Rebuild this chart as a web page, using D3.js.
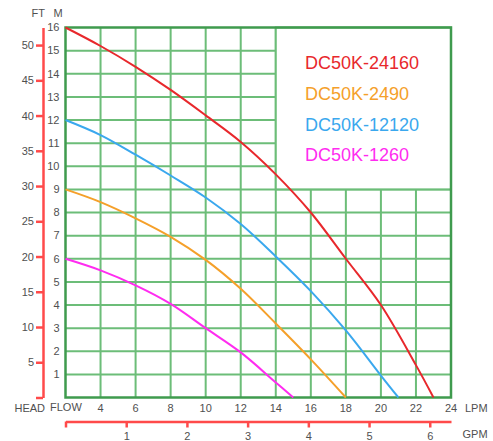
<!DOCTYPE html>
<html><head><meta charset="utf-8">
<script src="https://cdn.jsdelivr.net/npm/d3@7"></script>
<style>
body{margin:0;background:#fff;}
svg{display:block;font-family:"Liberation Sans",Arial,sans-serif;}
</style></head>
<body><svg id="c" width="493" height="441"></svg>
<script>
// Data
const lpmTicks = [4,6,8,10,12,14,16,18,20,22,24];
const mTicks = [1,2,3,4,5,6,7,8,9,10,11,12,13,14,15,16];
const ftTicks = [0,5,10,15,20,25,30,35,40,45,50];
const gpmTicks = [0,1,2,3,4,5,6];
const seriesNames = ["DC50K-24160","DC50K-2490","DC50K-12120","DC50K-1260"];
const seriesColors = ["#e8282c","#f5a02a","#3aa8ee","#ff2cf0"];
const flow24160 = [2,4,6,8,10,12,14,16,18,20,22,23];
const head24160 = [16,15.2,14.3,13.3,12.2,11.05,9.65,8.0,6.0,4.0,1.4,0];
const flow2490 = [2,4,6,8,10,12,14,16,18];
const head2490 = [9,8.45,7.75,6.95,5.95,4.7,3.2,1.65,0];
const flow12120 = [2,4,6,8,10,12,14,16,18,20,21];
const head12120 = [12,11.35,10.5,9.6,8.65,7.5,6.1,4.6,2.9,0.95,0];
const flow1260 = [2,4,6,8,10,12,14,15];
const head1260 = [6,5.5,4.85,4.05,3.0,1.95,0.65,0];

const svg = d3.select("#c");
const x = d3.scaleLinear().domain([2,24]).range([65.5,451]);
const y = d3.scaleLinear().domain([0,16]).range([397.5,27.5]);
const ft = d3.scaleLinear().domain([0,16/0.3048]).range([397.5,27.5]);
const gpm = d3.scaleLinear().domain([0,6.35]).range([65.5,451]);

const gridC = "#6cbd78", borderC = "#3f9b4e", axisRed = "#ff4a4a", txt = "#505050";

// grid
const g = svg.append("g");
d3.range(3,24).filter(v=>v%2===0).forEach(v=>{
  g.append("line").attr("x1",x(v)).attr("x2",x(v)).attr("y1",y(0)).attr("y2",y(16))
   .attr("stroke",gridC).attr("stroke-width",2);
});
d3.range(1,16).forEach(v=>{
  g.append("line").attr("x1",x(2)).attr("x2",x(24)).attr("y1",y(v)).attr("y2",y(v))
   .attr("stroke",gridC).attr("stroke-width",2);
});
// legend box
g.append("rect").attr("x",x(14)).attr("y",y(16)).attr("width",x(24)-x(14)).attr("height",y(9)-y(16))
 .attr("fill","#fff").attr("stroke",gridC).attr("stroke-width",2);
// border
g.append("rect").attr("x",x(2)).attr("y",y(16)).attr("width",x(24)-x(2)).attr("height",y(0)-y(16))
 .attr("fill","none").attr("stroke",borderC).attr("stroke-width",2.5);

// curves
const flows=[flow24160,flow2490,flow12120,flow1260];
const heads=[head24160,head2490,head12120,head1260];
const line = d3.line().x(d=>x(d[0])).y(d=>y(d[1])).curve(d3.curveCatmullRom.alpha(0.5));
flows.forEach((f,i)=>{
  svg.append("path").datum(f.map((v,j)=>[v,heads[i][j]])).attr("d",line)
    .attr("fill","none").attr("stroke",seriesColors[i]).attr("stroke-width",2);
});

// legend text
seriesNames.forEach((n,i)=>{
  svg.append("text").attr("x",305).attr("y",69.3+i*30.6).text(n)
   .attr("fill",seriesColors[i]).attr("font-size",18);
});

// M labels
svg.append("g").selectAll("text").data(mTicks).join("text")
  .attr("x",59.5).attr("y",d=>y(d)).attr("dy","0.35em").attr("text-anchor","end")
  .attr("font-size",11).attr("fill",txt).text(d=>d);

// FT axis
const ftAxis = d3.axisLeft(ft).tickValues(ftTicks).tickSize(7).tickSizeOuter(0).tickPadding(2)
  .tickFormat(d=>d===0?"":d);
const fa = svg.append("g").attr("transform","translate(43,0)").call(ftAxis);
fa.selectAll("path,line").attr("stroke",axisRed).attr("stroke-width",2.5);
fa.selectAll("text").attr("fill",txt).attr("font-size",11).attr("font-family","Liberation Sans,Arial,sans-serif");

// LPM labels
svg.append("g").selectAll("text").data(lpmTicks).join("text")
  .attr("x",d=>x(d)).attr("y",412).attr("text-anchor","middle")
  .attr("font-size",11).attr("fill",txt).text(d=>d);

// GPM axis
const gAxis = d3.axisBottom(gpm).tickValues(gpmTicks).tickSize(6).tickSizeOuter(0).tickPadding(5)
  .tickFormat(d=>d===0?"":d);
const ga = svg.append("g").attr("transform","translate(0,421.5)").call(gAxis);
ga.selectAll("path,line").attr("stroke",axisRed).attr("stroke-width",2.5);
ga.selectAll("text").attr("fill",txt).attr("font-size",11).attr("font-family","Liberation Sans,Arial,sans-serif");

// captions
const cap=(t,xx,yy,anchor)=>svg.append("text").attr("x",xx).attr("y",yy).attr("text-anchor",anchor||"start")
  .attr("font-size",11).attr("fill",txt).text(t);
cap("FT",31.5,16.5);
cap("M",53.5,16.5);
cap("HEAD",14.5,412);
cap("FLOW",50,411);
cap("LPM",465,412);
cap("GPM",462.5,438);
</script></body></html>
